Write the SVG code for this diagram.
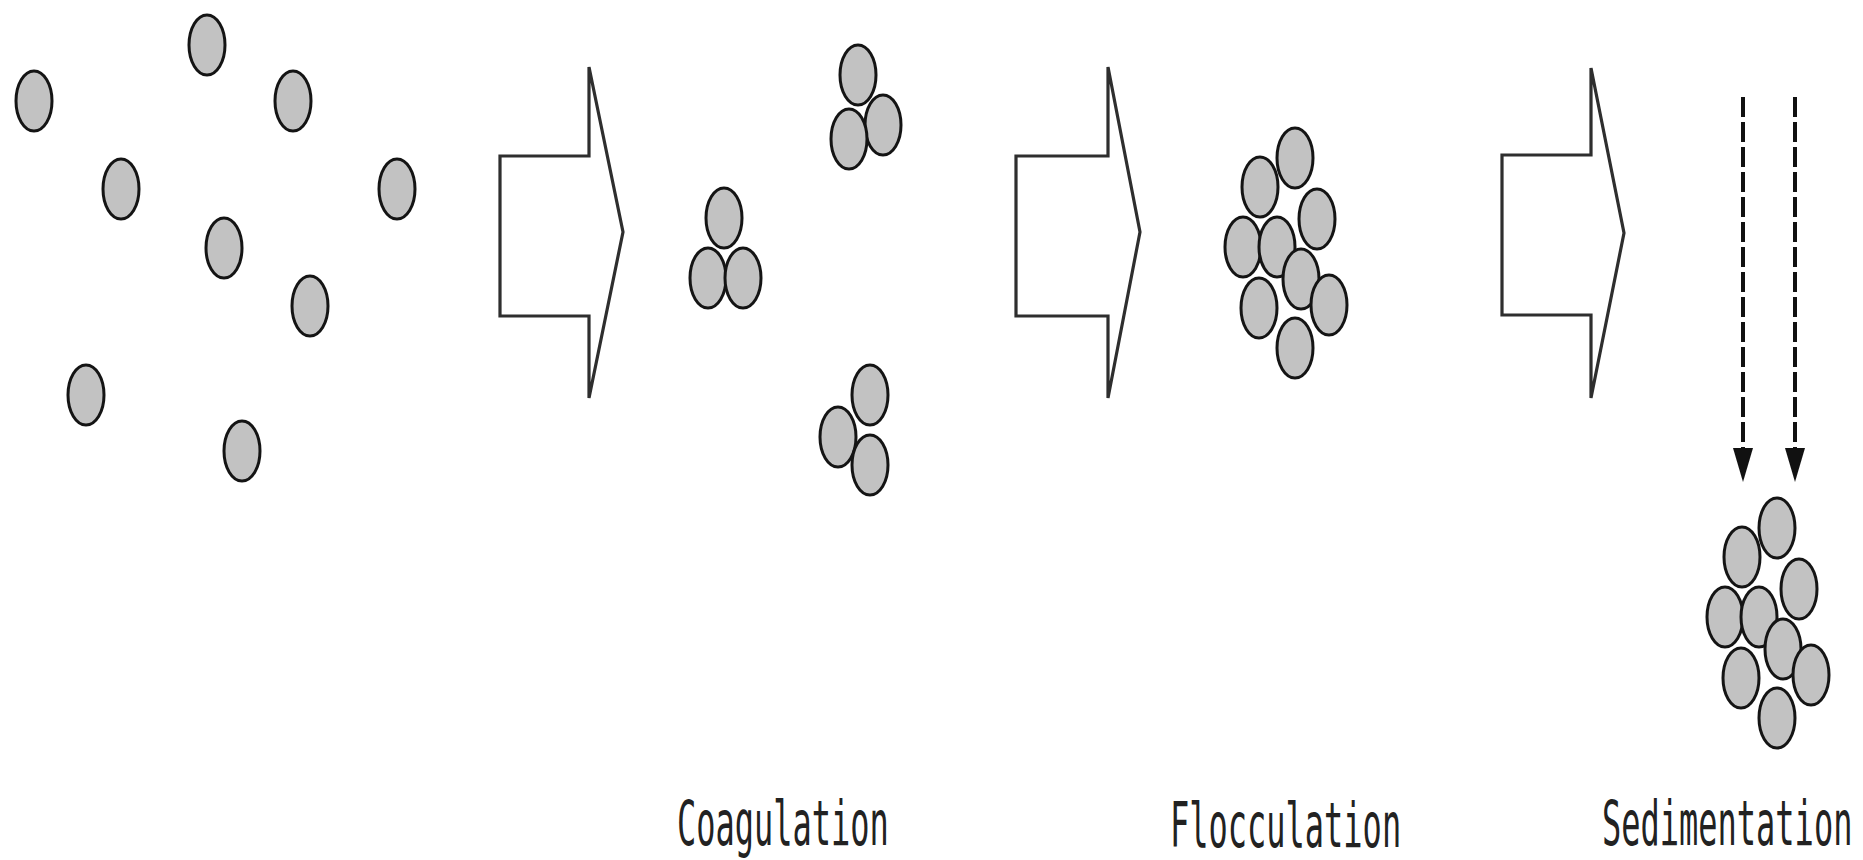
<svg xmlns="http://www.w3.org/2000/svg" xmlns:xlink="http://www.w3.org/1999/xlink" width="1863" height="860" viewBox="0 0 1863 860">
  <style>
    .p { fill: #c2c2c2; stroke: #141414; stroke-width: 3; }
    .step { fill: #ffffff; stroke: #2e2e2e; stroke-width: 3.2; stroke-linejoin: miter; }
    .fall { stroke: #111111; stroke-width: 4; stroke-dasharray: 20 5; fill: none; }
    .lbl { font-family: "DejaVu Sans Mono", "Liberation Mono", monospace; font-size: 32px; fill: #222222; }
  </style>
  <defs>
    <!-- single particle -->
    <ellipse id="particle" class="p" cx="0" cy="0" rx="18" ry="30"/>
    <!-- floc of nine particles, origin at the top particle -->
    <g id="floc">
      <use xlink:href="#particle" x="0" y="0"/>
      <use xlink:href="#particle" x="-35" y="29"/>
      <use xlink:href="#particle" x="22" y="61"/>
      <use xlink:href="#particle" x="-52" y="89"/>
      <use xlink:href="#particle" x="-18" y="89"/>
      <use xlink:href="#particle" x="6" y="121"/>
      <use xlink:href="#particle" x="-36" y="150"/>
      <use xlink:href="#particle" x="34" y="147"/>
      <use xlink:href="#particle" x="0" y="190"/>
    </g>
    <!-- solid head for the settling lines, pointing along the line -->
    <marker id="head" viewBox="0 0 34 20" refX="1" refY="10" markerWidth="34" markerHeight="20" markerUnits="userSpaceOnUse" orient="auto">
      <polygon points="0,0 34,10 0,20" fill="#111111"/>
    </marker>
  </defs>

  <rect width="1863" height="860" fill="#ffffff"/>

  <!-- dispersed particles -->
  <g id="dispersed">
    <use xlink:href="#particle" x="207" y="45"/>
    <use xlink:href="#particle" x="34" y="101"/>
    <use xlink:href="#particle" x="293" y="101"/>
    <use xlink:href="#particle" x="121" y="189"/>
    <use xlink:href="#particle" x="397" y="189"/>
    <use xlink:href="#particle" x="224" y="248"/>
    <use xlink:href="#particle" x="310" y="306"/>
    <use xlink:href="#particle" x="86" y="395"/>
    <use xlink:href="#particle" x="242" y="451"/>
  </g>

  <!-- process steps (block arrows) -->
  <g id="connectors">
    <polygon class="step" points="500,156 589,156 589,67 623,232 589,398 589,316 500,316"/>
    <polygon class="step" points="1016,156 1108,156 1108,67 1140,232 1108,398 1108,316 1016,316"/>
    <polygon class="step" points="1502,155 1591,155 1591,68 1624,233 1591,398 1591,315 1502,315"/>
    <!-- settling direction -->
    <line class="fall" x1="1743" y1="97" x2="1743" y2="449" marker-end="url(#head)"/>
    <line class="fall" x1="1795" y1="97" x2="1795" y2="449" marker-end="url(#head)"/>
  </g>

  <!-- coagulation: small clusters of three -->
  <g id="coagulation">
    <g id="cluster-a">
      <use xlink:href="#particle" x="724" y="218"/>
      <use xlink:href="#particle" x="708" y="278"/>
      <use xlink:href="#particle" x="743" y="278"/>
    </g>
    <g id="cluster-b">
      <use xlink:href="#particle" x="858" y="75"/>
      <use xlink:href="#particle" x="883" y="125"/>
      <use xlink:href="#particle" x="849" y="139"/>
    </g>
    <g id="cluster-c">
      <use xlink:href="#particle" x="870" y="395"/>
      <use xlink:href="#particle" x="838" y="437"/>
      <use xlink:href="#particle" x="870" y="465"/>
    </g>
    <!-- tall narrow lettering: half-width glyphs stretched vertically -->
    <text class="lbl" transform="translate(677,845) scale(1,1.95)">Coagulation</text>
  </g>

  <!-- flocculation: one large floc -->
  <g id="flocculation">
    <use xlink:href="#floc" x="1295" y="158"/>
    <text class="lbl" transform="translate(1170,847) scale(1,1.95)">Flocculation</text>
  </g>

  <!-- sedimentation: floc settling -->
  <g id="sedimentation">
    <use xlink:href="#floc" x="1777" y="528"/>
    <text class="lbl" transform="translate(1602,845) scale(1,1.95)">Sedimentation</text>
  </g>
</svg>
